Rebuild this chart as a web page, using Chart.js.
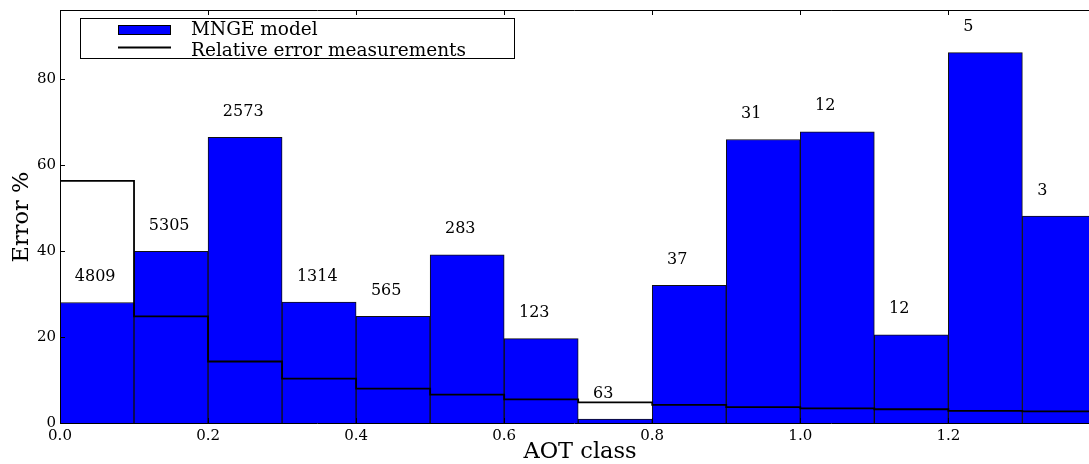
<!DOCTYPE html>
<html>
<head>
<meta charset="utf-8">
<script src="https://cdn.jsdelivr.net/npm/chart.js@4.4.1/dist/chart.umd.min.js"></script>
<style>
  html, body { margin: 0; padding: 0; background: #fff; }
</style>
</head>
<body>
<canvas id="aot" width="1089" height="464"></canvas>
<script>
// AOT class bins (left edges), width 0.1
const binEdges = [0.0, 0.1, 0.2, 0.3, 0.4, 0.5, 0.6, 0.7, 0.8, 0.9, 1.0, 1.1, 1.2, 1.3];
const binWidth = 0.1;
const mngeModel = [28.0, 39.9, 66.4, 28.1, 24.8, 39.1, 19.6, 0.9, 32.0, 65.9, 67.7, 20.5, 86.1, 48.1];
const relativeError = [56.3, 24.8, 14.3, 10.3, 8.0, 6.6, 5.5, 4.8, 4.2, 3.7, 3.4, 3.2, 2.8, 2.7];
const sampleCounts = ['4809', '5305', '2573', '1314', '565', '283', '123', '63', '37', '31', '12', '12', '5', '3'];
const xTicks = [0.0, 0.2, 0.4, 0.6, 0.8, 1.0, 1.2];
const yTicks = [0, 20, 40, 60, 80];

const serif = '"DejaVu Serif", "Liberation Serif", serif';

// step outline of the measured error histogram
const stepPoints = [{ x: binEdges[0], y: 0 }];
relativeError.forEach((v, i) => stepPoints.push({ x: binEdges[i], y: v }));
stepPoints.push({ x: binEdges[binEdges.length - 1] + binWidth, y: relativeError[relativeError.length - 1] });
stepPoints.push({ x: binEdges[binEdges.length - 1] + binWidth, y: 0 });

const barPoints = mngeModel.map((v, i) => ({ x: binEdges[i] + binWidth / 2, y: v }));

const extras = {
  id: 'extras',
  afterDatasetsDraw(chart) {
    const ctx = chart.ctx;
    const a = chart.chartArea;
    const xs = chart.scales.x, ys = chart.scales.y;
    ctx.save();

    // counts above the bars
    ctx.fillStyle = '#000';
    ctx.font = '16px ' + serif;
    ctx.textAlign = 'left';
    ctx.textBaseline = 'alphabetic';
    sampleCounts.forEach((t, i) => {
      ctx.fillText(t, xs.getPixelForValue(binEdges[i] + 0.02), ys.getPixelForValue(mngeModel[i] + 5));
    });

    // spines
    ctx.strokeStyle = '#000';
    ctx.lineWidth = 1;
    ctx.beginPath();
    ctx.moveTo(a.left + 0.5, a.bottom);
    ctx.lineTo(a.left + 0.5, a.top + 0.5);
    ctx.lineTo(a.right, a.top + 0.5);
    ctx.moveTo(a.left, a.bottom + 0.5);
    ctx.lineTo(a.right, a.bottom + 0.5);
    ctx.stroke();

    // inward ticks
    ctx.beginPath();
    xTicks.forEach(v => {
      const px = Math.round(xs.getPixelForValue(v)) + 0.5;
      ctx.moveTo(px, a.top); ctx.lineTo(px, a.top + 5);
      ctx.moveTo(px, a.bottom); ctx.lineTo(px, a.bottom - 5);
    });
    yTicks.forEach(v => {
      const py = Math.round(ys.getPixelForValue(v)) + 0.5;
      ctx.moveTo(a.left, py); ctx.lineTo(a.left + 5, py);
    });
    ctx.stroke();

    // legend box
    ctx.fillStyle = '#fff';
    ctx.fillRect(80.5, 18.5, 434, 40);
    ctx.strokeRect(80.5, 18.5, 434, 40);
    ctx.fillStyle = '#0000ff';
    ctx.fillRect(118, 25, 53, 10);
    ctx.strokeRect(118.5, 25.5, 52, 9);
    ctx.lineWidth = 1.8;
    ctx.beginPath();
    ctx.moveTo(118, 47.5); ctx.lineTo(171, 47.5);
    ctx.stroke();
    ctx.fillStyle = '#000';
    ctx.font = '18.5px ' + serif;
    ctx.textBaseline = 'alphabetic';
    ctx.fillText('MNGE model', 191, 35);
    ctx.fillText('Relative error measurements', 191, 55.5);

    // axis titles
    ctx.font = '22.5px ' + serif;
    ctx.textAlign = 'center';
    ctx.textBaseline = 'middle';
    ctx.fillText('AOT class', 580, 452);
    ctx.translate(22, 217);
    ctx.rotate(-Math.PI / 2);
    ctx.fillText('Error %', 0, 0);
    ctx.restore();
  }
};

new Chart(document.getElementById('aot'), {
  type: 'bar',
  data: {
    datasets: [
      {
        type: 'line',
        label: 'Relative error measurements',
        data: stepPoints,
        stepped: 'before',
        borderColor: '#000',
        borderWidth: 1.8,
        pointRadius: 0,
        fill: false,
        order: 0
      },
      {
        label: 'MNGE model',
        data: barPoints,
        backgroundColor: '#0000ff',
        borderColor: '#111',
        borderWidth: 1,
        barPercentage: 1,
        categoryPercentage: 1,
        order: 1
      }
    ]
  },
  options: {
    responsive: false,
    animation: false,
    maintainAspectRatio: false,
    layout: { padding: { top: 10, left: 0, right: 0, bottom: 0 } },
    plugins: { legend: { display: false }, tooltip: { enabled: false } },
    scales: {
      x: {
        type: 'linear',
        offset: false,
        min: 0,
        max: 1.39,
        grid: { display: false, drawTicks: false },
        border: { display: false },
        afterFit(s) { s.height = 41; s.paddingLeft = 0; s.paddingRight = 0; },
        afterBuildTicks(s) { s.ticks = xTicks.map(v => ({ value: v })); },
        ticks: {
          color: '#000',
          padding: 4,
          font: { family: serif, size: 15 },
          callback: v => v.toFixed(1)
        }
      },
      y: {
        min: 0,
        max: 96,
        grid: { display: false, drawTicks: false },
        border: { display: false },
        afterFit(s) { s.width = 60; s.paddingTop = 0; s.paddingBottom = 0; },
        afterBuildTicks(s) { s.ticks = yTicks.map(v => ({ value: v })); },
        ticks: {
          color: '#000',
          padding: 4,
          font: { family: serif, size: 15 },
          callback: v => String(v)
        }
      }
    }
  },
  plugins: [extras]
});
</script>
</body>
</html>
